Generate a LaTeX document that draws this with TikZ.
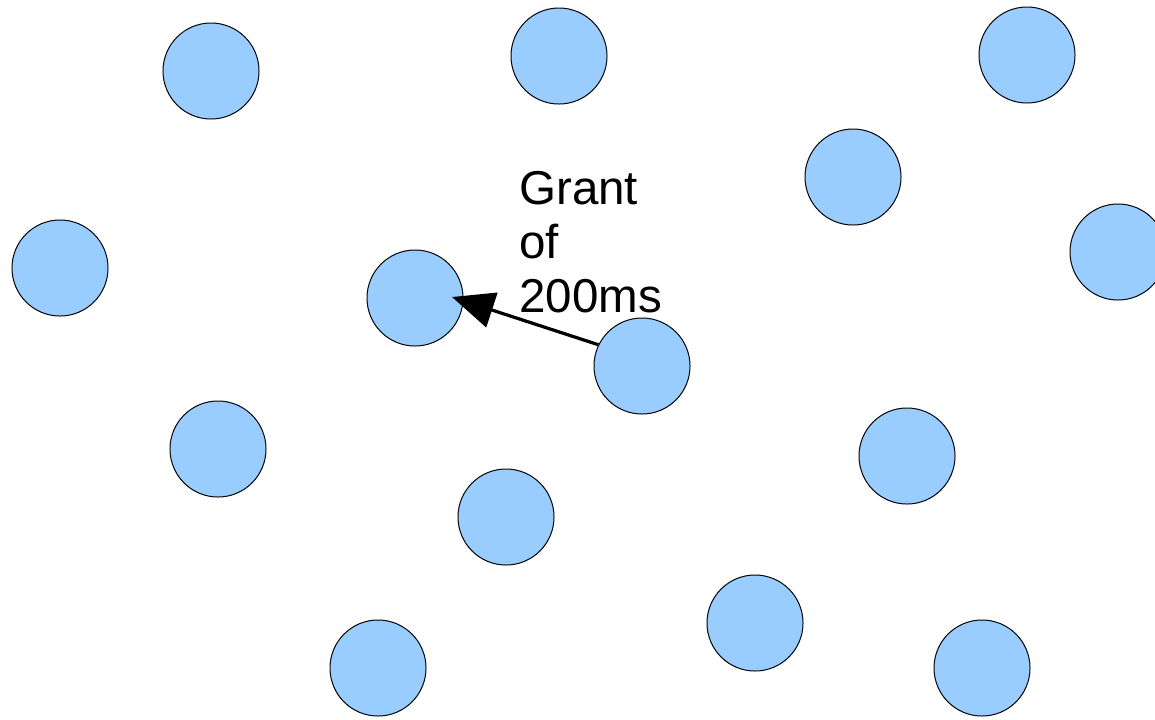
\documentclass[tikz,border=0pt]{standalone}
\usepackage{fontspec}
\setmainfont{Liberation Sans}
\usepackage{tikz}
\usepackage{xcolor}
\usetikzlibrary{arrows.meta,positioning}
\definecolor{nodeblue}{HTML}{99CCFF}
\tikzset{
    station/.style={circle, draw=black, line width=0.7pt, fill=nodeblue, minimum size=2.4cm, inner sep=0pt},
    arrow/.style={-{Triangle[length=1.05cm, width=0.9cm]}, line width=2.3pt},
    label/.style={inner sep=0pt, align=left, font=\fontsize{33.8}{38.5}\selectfont}
}

\begin{document}
\begin{tikzpicture}[x=0.025cm, y=-0.025cm]
\useasboundingbox (0,0) rectangle (1155,719);

% Stations spread over the field
\node[station] (s1) at (211,71) {};
\node[station] (s2) at (559,56) {};
\node[station] (s3) at (1027,55) {};
\node[station] (s4) at (853,177) {};
\node[station] (s5) at (60,268) {};
\node[station] (s6) at (1118,252) {};
\node[station] (s7) at (415,298) {};
\node[station] (s8) at (642,366) {};
\node[station] (s9) at (218,449) {};
\node[station] (s10) at (907,456) {};
\node[station] (s11) at (506,517) {};
\node[station] (s12) at (755,623) {};
\node[station] (s13) at (378,668) {};
\node[station] (s14) at (982,668) {};

% Grant passed from one station to its neighbour
\coordinate (tip) at (452,297);
\draw[arrow] (s8.154) -- (tip);
\node[label, anchor=north west] (grant) at (519,171) {Grant\\of\\200ms};

\end{tikzpicture}
\end{document}
